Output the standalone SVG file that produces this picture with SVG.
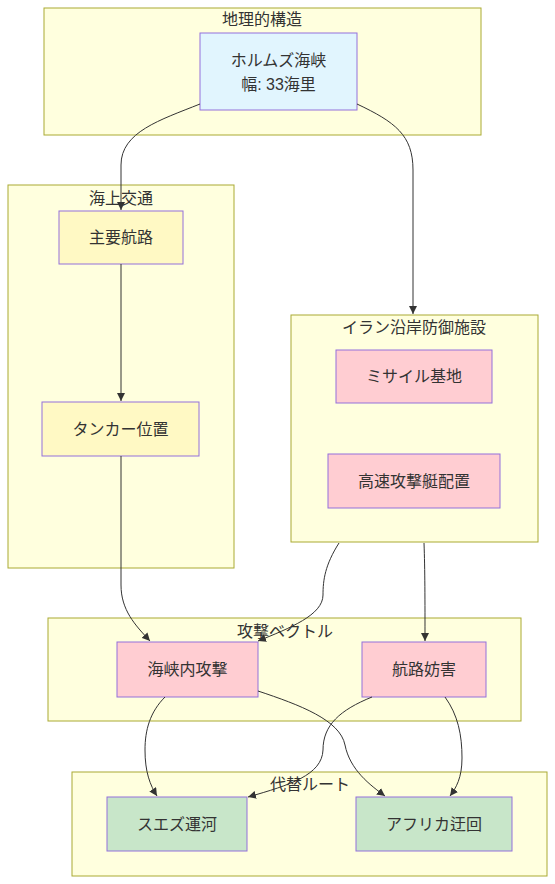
<svg xmlns="http://www.w3.org/2000/svg" width="555" height="884" viewBox="0 0 555 884">
<style>
.cl{fill:#ffffde;stroke:#aaaa33;stroke-width:1}
.nd{stroke:#9370db;stroke-width:1}
.blue{fill:#e1f5fe}
.yel{fill:#fff9c4}
.pink{fill:#ffcdd2}
.green{fill:#c8e6c9}
text{font-family:"Liberation Sans","Noto Sans CJK JP",sans-serif;font-size:16px;fill:#333;text-anchor:middle;dominant-baseline:central}
.e{fill:none;stroke:#333;stroke-width:1;marker-end:url(#arr)}
</style>
<defs>
<marker id="arr" viewBox="0 0 10 10" refX="10" refY="5" markerWidth="8" markerHeight="8" markerUnits="userSpaceOnUse" orient="auto">
<path d="M0,0 L10,5 L0,10 z" fill="#333"/>
</marker>
</defs>
<rect width="555" height="884" fill="#fff"/>
<g id="cluster-geo"><rect class="cl" x="44" y="8" width="437" height="127"/><text x="262" y="19">地理的構造</text></g>
<g id="cluster-sea"><rect class="cl" x="8" y="185" width="226" height="383"/><text x="121" y="198">海上交通</text></g>
<g id="cluster-iran"><rect class="cl" x="291" y="315" width="247" height="227"/><text x="414" y="327">イラン沿岸防御施設</text></g>
<g id="cluster-attack"><rect class="cl" x="48" y="618" width="473" height="103"/><text x="285" y="631">攻撃ベクトル</text></g>
<g id="cluster-alt"><rect class="cl" x="72" y="772" width="475" height="104"/><text x="310" y="784">代替ルート</text></g>

<g id="hormuz"><rect class="nd blue" x="200" y="33" width="157" height="77"/><text x="278.5" y="60">ホルムズ海峡</text><text x="278.5" y="84">幅: 33海里</text></g>
<g id="mainroute"><rect class="nd yel" x="59" y="211" width="124" height="53"/><text x="121" y="237.5">主要航路</text></g>
<g id="tanker"><rect class="nd yel" x="42" y="402" width="157" height="54"/><text x="120.5" y="429">タンカー位置</text></g>
<g id="missile"><rect class="nd pink" x="336" y="350" width="156" height="53"/><text x="414" y="376.5">ミサイル基地</text></g>
<g id="fastboat"><rect class="nd pink" x="328" y="454" width="172" height="54"/><text x="414" y="481">高速攻撃艇配置</text></g>
<g id="strait-attack"><rect class="nd pink" x="117" y="642" width="141" height="55"/><text x="187.5" y="669.5">海峡内攻撃</text></g>
<g id="route-block"><rect class="nd pink" x="362" y="642" width="124" height="55"/><text x="424" y="669.5">航路妨害</text></g>
<g id="suez"><rect class="nd green" x="107" y="797" width="140" height="54"/><text x="177" y="824">スエズ運河</text></g>
<g id="africa"><rect class="nd green" x="356" y="797" width="156" height="54"/><text x="434" y="824">アフリカ迂回</text></g>

<g id="edges">
<path class="e" d="M200,104 C160,120 121,132 121,165 L121,210"/>
<path class="e" d="M357,104 C395,122 413,135 413,170 L413,314"/>
<path class="e" d="M121,264 L121,401"/>
<path class="e" d="M121,456 L121,585 C121,610 135,625 150,641"/>
<path class="e" d="M339,543 C325,565 323,580 323,595 C323,615 290,628 258,641"/>
<path class="e" d="M424,543 C425,570 425,600 425,641"/>
<path class="e" d="M165,697 C150,712 145,730 145,750 C145,772 150,785 157,796"/>
<path class="e" d="M258,691 C300,705 340,720 345,745 C350,770 370,785 385,796"/>
<path class="e" d="M372,697 C340,710 323,725 323,750 C322,775 290,785 248,797"/>
<path class="e" d="M445,697 C458,715 462,735 462,758 C462,778 456,788 450,796"/>
</g>
</svg>
